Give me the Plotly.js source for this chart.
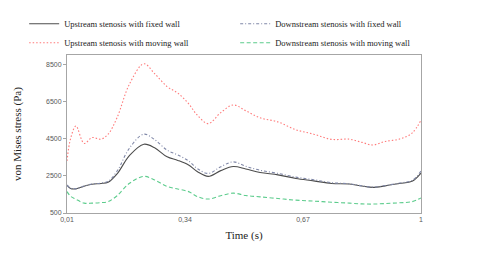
<!DOCTYPE html>
<html>
<head>
<meta charset="utf-8">
<script src="https://cdn.plot.ly/plotly-3.0.1.min.js"></script>
<style>html,body{margin:0;padding:0;background:#fff;}#chart{width:486px;height:263px;}</style>
</head>
<body>
<div id="chart"></div>
<script>
var time = [0.01, 0.02, 0.035, 0.058, 0.08, 0.105, 0.125, 0.15, 0.185, 0.225, 0.255, 0.29, 0.32, 0.35, 0.375, 0.405, 0.44, 0.475, 0.51, 0.55, 0.6, 0.65, 0.7, 0.75, 0.8, 0.835, 0.865, 0.9, 0.94, 0.975, 1.0];
var upstreamFixed = [2000, 1820, 1800, 1940, 2050, 2090, 2150, 2600, 3600, 4200, 4010, 3520, 3330, 3080, 2720, 2470, 2780, 3000, 2870, 2680, 2550, 2360, 2230, 2090, 2060, 1950, 1880, 1960, 2090, 2210, 2650];
var downstreamFixed = [2000, 1830, 1810, 1950, 2060, 2110, 2200, 2750, 4000, 4740, 4450, 3880, 3620, 3300, 2880, 2630, 2990, 3250, 3010, 2800, 2630, 2430, 2290, 2130, 2070, 1960, 1890, 1980, 2110, 2250, 2750];
var upstreamMoving = [3300, 4500, 5180, 4240, 4560, 4470, 4740, 5630, 7450, 8530, 8000, 7300, 6950, 6380, 5750, 5310, 5900, 6310, 6000, 5620, 5400, 4980, 4740, 4460, 4470, 4300, 4160, 4350, 4480, 4800, 5500];
var downstreamMoving = [1650, 1400, 1240, 1030, 1030, 1060, 1110, 1430, 2100, 2470, 2280, 1930, 1790, 1650, 1380, 1250, 1430, 1570, 1440, 1370, 1280, 1190, 1140, 1080, 1030, 990, 980, 1010, 1050, 1110, 1310];
var seriesNames = ["Upstream stenosis with fixed wall", "Downstream stenosis with fixed wall", "Upstream stenosis with moving wall", "Downstream stenosis with moving wall"];
var xTicks = [0.01, 0.34, 0.67, 1];
var yTicks = [500, 2500, 4500, 6500, 8500];

var traces = [
  {x: time, y: upstreamFixed, name: seriesNames[0], mode: "lines", line: {color: "#4d4d4d", width: 1.1, dash: "solid", shape: "spline", smoothing: 1}},
  {x: time, y: downstreamFixed, name: seriesNames[1], mode: "lines", line: {color: "#8088a8", width: 1.1, dash: "3px,2px,1px,2px", shape: "spline", smoothing: 1}},
  {x: time, y: upstreamMoving, name: seriesNames[2], mode: "lines", line: {color: "#ff7a7a", width: 1.1, dash: "1.5px,2px", shape: "spline", smoothing: 1}},
  {x: time, y: downstreamMoving, name: seriesNames[3], mode: "lines", line: {color: "#5ccc8c", width: 1.1, dash: "4px,2.5px", shape: "spline", smoothing: 1}}
];

var layout = {
  width: 486, height: 263,
  margin: {l: 67, r: 65, t: 55, b: 50, pad: 0, autoexpand: false},
  paper_bgcolor: "#fff", plot_bgcolor: "#fff",
  separators: ", ",
  showlegend: true,
  legend: {
    orientation: "h", x: -0.121, xanchor: "left", y: 1.29, yanchor: "top",
    entrywidth: 166, entrywidthmode: "pixels", itemwidth: 30,
    tracegroupgap: 0, traceorder: "normal",
    font: {family: "Liberation Serif, Times New Roman, serif", size: 8.5, color: "#222"},
    bgcolor: "rgba(0,0,0,0)"
  },
  xaxis: {
    range: [0.01, 1], tickvals: xTicks, ticktext: xTicks.map(function(v){return String(v).replace(".", ",");}),
    showgrid: false, zeroline: false, showline: true, linecolor: "#a6a6a6", linewidth: 1, mirror: true,
    ticks: "", tickfont: {family: "Liberation Sans, Arial, sans-serif", size: 7, color: "#595959"},
    title: {text: "Time (s)", font: {family: "Liberation Serif, Times New Roman, serif", size: 11, color: "#222"}, standoff: 8}
  },
  yaxis: {
    range: [500, 9000], tickvals: yTicks,
    showgrid: false, zeroline: false, showline: true, linecolor: "#a6a6a6", linewidth: 1, mirror: true,
    ticks: "outside", ticklen: 3, tickcolor: "#a6a6a6",
    tickfont: {family: "Liberation Sans, Arial, sans-serif", size: 7, color: "#595959"},
    title: {text: "von Mises stress (Pa)", font: {family: "Liberation Serif, Times New Roman, serif", size: 11, color: "#222"}, standoff: 22}
  }
};

Plotly.newPlot("chart", traces, layout, {displayModeBar: false, staticPlot: true});
</script>
</body>
</html>
